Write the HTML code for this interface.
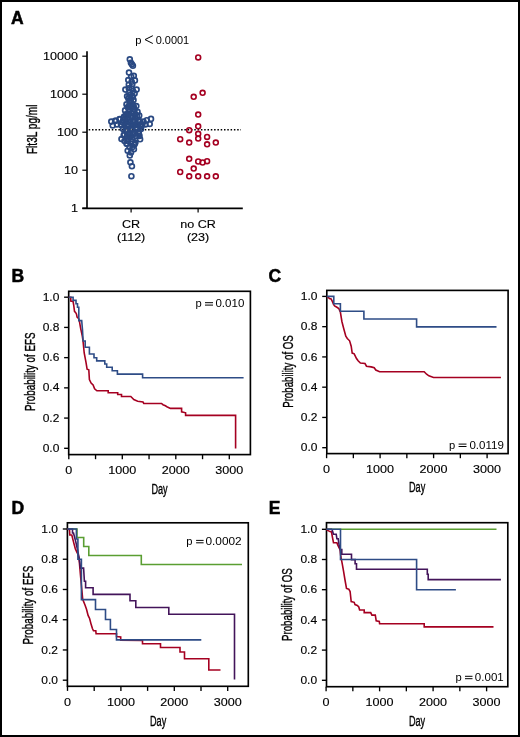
<!DOCTYPE html><html><head><meta charset="utf-8"><style>html,body{margin:0;padding:0;background:#fff}svg{display:block;will-change:transform}</style></head><body>
<svg width="520" height="737" viewBox="0 0 520 737" font-family="Liberation Sans, sans-serif" fill="#000">
<rect x="0" y="0" width="520" height="737" fill="#fff"/>
<rect x="1" y="1" width="518" height="735" fill="none" stroke="#000" stroke-width="2"/>
<text x="11" y="23.5" font-size="17.5" font-weight="bold" stroke="#000" stroke-width="0.5">A</text>
<line x1="87.00" y1="51.20" x2="87.00" y2="209.05" stroke="#000" stroke-width="1.65" />
<line x1="82.30" y1="208.30" x2="242.80" y2="208.30" stroke="#000" stroke-width="1.65" />
<line x1="82.30" y1="56.20" x2="87.00" y2="56.20" stroke="#000" stroke-width="1.2" />
<text transform="translate(77.90,60) scale(1.05,0.97)" font-size="12" text-anchor="end" stroke="#000" stroke-width="0.15">10000</text>
<line x1="82.30" y1="94.20" x2="87.00" y2="94.20" stroke="#000" stroke-width="1.2" />
<text transform="translate(77.90,98) scale(1.05,0.97)" font-size="12" text-anchor="end" stroke="#000" stroke-width="0.15">1000</text>
<line x1="82.30" y1="132.20" x2="87.00" y2="132.20" stroke="#000" stroke-width="1.2" />
<text transform="translate(77.90,136) scale(1.05,0.97)" font-size="12" text-anchor="end" stroke="#000" stroke-width="0.15">100</text>
<line x1="82.30" y1="170.20" x2="87.00" y2="170.20" stroke="#000" stroke-width="1.2" />
<text transform="translate(77.90,174) scale(1.05,0.97)" font-size="12" text-anchor="end" stroke="#000" stroke-width="0.15">10</text>
<line x1="82.30" y1="208.20" x2="87.00" y2="208.20" stroke="#000" stroke-width="1.2" />
<text transform="translate(77.90,212) scale(1.05,0.97)" font-size="12" text-anchor="end" stroke="#000" stroke-width="0.15">1</text>
<line x1="131.10" y1="208.30" x2="131.10" y2="212.40" stroke="#000" stroke-width="1.2" />
<line x1="198.10" y1="208.30" x2="198.10" y2="212.40" stroke="#000" stroke-width="1.2" />
<text transform="translate(131.10,228) scale(1.05,0.97)" font-size="12" text-anchor="middle" stroke="#000" stroke-width="0.15">CR</text>
<text transform="translate(131.10,241) scale(1.05,0.97)" font-size="12" text-anchor="middle" stroke="#000" stroke-width="0.15">(112)</text>
<text transform="translate(198.10,228) scale(1.05,0.97)" font-size="12" text-anchor="middle" stroke="#000" stroke-width="0.15">no CR</text>
<text transform="translate(198.10,241) scale(1.05,0.97)" font-size="12" text-anchor="middle" stroke="#000" stroke-width="0.15">(23)</text>
<text x="135.30" y="43.9" font-size="11.2">p</text>
<polyline points="152.80,35.70 145.00,39.60 152.80,43.50" fill="none" stroke="#000" stroke-width="1.0"/>
<text transform="translate(189.20,43.9) scale(0.98,0.95)" font-size="11.2" text-anchor="end">0.0001</text>
<text x="36.6" y="129.3" transform="rotate(-90 36.6 129.3)" font-size="14" text-anchor="middle" textLength="49.5" lengthAdjust="spacingAndGlyphs" stroke="#000" stroke-width="0.35">Flt3L pg/ml</text>
<line x1="88.70" y1="129.80" x2="241.00" y2="129.80" stroke="#000" stroke-width="1.5" stroke-dasharray="1.5,1.8"/>
<circle cx="198.2" cy="57.4" r="2.45" fill="none" stroke="#a50021" stroke-width="1.6"/>
<circle cx="202.6" cy="92.8" r="2.45" fill="none" stroke="#a50021" stroke-width="1.6"/>
<circle cx="193.7" cy="96.8" r="2.45" fill="none" stroke="#a50021" stroke-width="1.6"/>
<circle cx="198.2" cy="114.6" r="2.45" fill="none" stroke="#a50021" stroke-width="1.6"/>
<circle cx="198.2" cy="126.3" r="2.45" fill="none" stroke="#a50021" stroke-width="1.6"/>
<circle cx="189.2" cy="130.2" r="2.45" fill="none" stroke="#a50021" stroke-width="1.6"/>
<circle cx="198.2" cy="133.8" r="2.45" fill="none" stroke="#a50021" stroke-width="1.6"/>
<circle cx="198.2" cy="138.6" r="2.45" fill="none" stroke="#a50021" stroke-width="1.6"/>
<circle cx="207.1" cy="136.9" r="2.45" fill="none" stroke="#a50021" stroke-width="1.6"/>
<circle cx="180.2" cy="139.2" r="2.45" fill="none" stroke="#a50021" stroke-width="1.6"/>
<circle cx="189.2" cy="142.6" r="2.45" fill="none" stroke="#a50021" stroke-width="1.6"/>
<circle cx="207.1" cy="144.3" r="2.45" fill="none" stroke="#a50021" stroke-width="1.6"/>
<circle cx="215.8" cy="142.6" r="2.45" fill="none" stroke="#a50021" stroke-width="1.6"/>
<circle cx="189.2" cy="158.8" r="2.45" fill="none" stroke="#a50021" stroke-width="1.6"/>
<circle cx="198.2" cy="161.5" r="2.45" fill="none" stroke="#a50021" stroke-width="1.6"/>
<circle cx="202.6" cy="162.5" r="2.45" fill="none" stroke="#a50021" stroke-width="1.6"/>
<circle cx="207.1" cy="161.2" r="2.45" fill="none" stroke="#a50021" stroke-width="1.6"/>
<circle cx="193.7" cy="168.6" r="2.45" fill="none" stroke="#a50021" stroke-width="1.6"/>
<circle cx="180.2" cy="172" r="2.45" fill="none" stroke="#a50021" stroke-width="1.6"/>
<circle cx="189.2" cy="176.3" r="2.45" fill="none" stroke="#a50021" stroke-width="1.6"/>
<circle cx="198.2" cy="176.3" r="2.45" fill="none" stroke="#a50021" stroke-width="1.6"/>
<circle cx="207.1" cy="176.3" r="2.45" fill="none" stroke="#a50021" stroke-width="1.6"/>
<circle cx="215.8" cy="176.3" r="2.45" fill="none" stroke="#a50021" stroke-width="1.6"/>
<circle cx="129.8" cy="59.3" r="2.45" fill="none" stroke="#2a4982" stroke-width="1.7"/>
<circle cx="130.9" cy="62.8" r="2.45" fill="none" stroke="#2a4982" stroke-width="1.7"/>
<circle cx="131.9" cy="64.3" r="2.45" fill="none" stroke="#2a4982" stroke-width="1.7"/>
<circle cx="132.9" cy="65.7" r="2.45" fill="none" stroke="#2a4982" stroke-width="1.7"/>
<circle cx="129.0" cy="72.6" r="2.45" fill="none" stroke="#2a4982" stroke-width="1.7"/>
<circle cx="133.8" cy="75.8" r="2.45" fill="none" stroke="#2a4982" stroke-width="1.7"/>
<circle cx="131.2" cy="76.7" r="2.45" fill="none" stroke="#2a4982" stroke-width="1.7"/>
<circle cx="128.3" cy="80.1" r="2.45" fill="none" stroke="#2a4982" stroke-width="1.7"/>
<circle cx="134.9" cy="80.4" r="2.45" fill="none" stroke="#2a4982" stroke-width="1.7"/>
<circle cx="131.7" cy="81.8" r="2.45" fill="none" stroke="#2a4982" stroke-width="1.7"/>
<circle cx="128.8" cy="84.7" r="2.45" fill="none" stroke="#2a4982" stroke-width="1.7"/>
<circle cx="132.3" cy="84.2" r="2.45" fill="none" stroke="#2a4982" stroke-width="1.7"/>
<circle cx="128.8" cy="88.2" r="2.45" fill="none" stroke="#2a4982" stroke-width="1.7"/>
<circle cx="131.7" cy="88.5" r="2.45" fill="none" stroke="#2a4982" stroke-width="1.7"/>
<circle cx="125.4" cy="89.6" r="2.45" fill="none" stroke="#2a4982" stroke-width="1.7"/>
<circle cx="136.6" cy="89.6" r="2.45" fill="none" stroke="#2a4982" stroke-width="1.7"/>
<circle cx="129.4" cy="92.2" r="2.45" fill="none" stroke="#2a4982" stroke-width="1.7"/>
<circle cx="134.6" cy="93.4" r="2.45" fill="none" stroke="#2a4982" stroke-width="1.7"/>
<circle cx="133.0" cy="91.0" r="2.45" fill="none" stroke="#2a4982" stroke-width="1.7"/>
<circle cx="127.1" cy="96.3" r="2.45" fill="none" stroke="#2a4982" stroke-width="1.7"/>
<circle cx="132.3" cy="96.3" r="2.45" fill="none" stroke="#2a4982" stroke-width="1.7"/>
<circle cx="130.0" cy="95.0" r="2.45" fill="none" stroke="#2a4982" stroke-width="1.7"/>
<circle cx="128.3" cy="98.6" r="2.45" fill="none" stroke="#2a4982" stroke-width="1.7"/>
<circle cx="133.5" cy="100.1" r="2.45" fill="none" stroke="#2a4982" stroke-width="1.7"/>
<circle cx="130.5" cy="101.0" r="2.45" fill="none" stroke="#2a4982" stroke-width="1.7"/>
<circle cx="126.5" cy="104.4" r="2.45" fill="none" stroke="#2a4982" stroke-width="1.7"/>
<circle cx="132.6" cy="104.4" r="2.45" fill="none" stroke="#2a4982" stroke-width="1.7"/>
<circle cx="129.5" cy="104.4" r="2.45" fill="none" stroke="#2a4982" stroke-width="1.7"/>
<circle cx="136.3" cy="106.1" r="2.45" fill="none" stroke="#2a4982" stroke-width="1.7"/>
<circle cx="128.0" cy="107.5" r="2.45" fill="none" stroke="#2a4982" stroke-width="1.7"/>
<circle cx="133.5" cy="107.5" r="2.45" fill="none" stroke="#2a4982" stroke-width="1.7"/>
<circle cx="129.4" cy="109.6" r="2.45" fill="none" stroke="#2a4982" stroke-width="1.7"/>
<circle cx="134.6" cy="109.9" r="2.45" fill="none" stroke="#2a4982" stroke-width="1.7"/>
<circle cx="125.1" cy="110.4" r="2.45" fill="none" stroke="#2a4982" stroke-width="1.7"/>
<circle cx="137.5" cy="111.9" r="2.45" fill="none" stroke="#2a4982" stroke-width="1.7"/>
<circle cx="131.5" cy="113.0" r="2.45" fill="none" stroke="#2a4982" stroke-width="1.7"/>
<circle cx="126.0" cy="114.2" r="2.45" fill="none" stroke="#2a4982" stroke-width="1.7"/>
<circle cx="139.2" cy="115.6" r="2.45" fill="none" stroke="#2a4982" stroke-width="1.7"/>
<circle cx="129.0" cy="114.5" r="2.45" fill="none" stroke="#2a4982" stroke-width="1.7"/>
<circle cx="135.5" cy="114.5" r="2.45" fill="none" stroke="#2a4982" stroke-width="1.7"/>
<circle cx="123.9" cy="117.1" r="2.45" fill="none" stroke="#2a4982" stroke-width="1.7"/>
<circle cx="131.7" cy="117.7" r="2.45" fill="none" stroke="#2a4982" stroke-width="1.7"/>
<circle cx="135.2" cy="117.7" r="2.45" fill="none" stroke="#2a4982" stroke-width="1.7"/>
<circle cx="124.2" cy="116.8" r="2.45" fill="none" stroke="#2a4982" stroke-width="1.7"/>
<circle cx="128.3" cy="118.8" r="2.45" fill="none" stroke="#2a4982" stroke-width="1.7"/>
<circle cx="119.9" cy="119.2" r="2.45" fill="none" stroke="#2a4982" stroke-width="1.7"/>
<circle cx="119.6" cy="119.1" r="2.45" fill="none" stroke="#2a4982" stroke-width="1.7"/>
<circle cx="115.1" cy="120.8" r="2.45" fill="none" stroke="#2a4982" stroke-width="1.7"/>
<circle cx="115.9" cy="120.8" r="2.45" fill="none" stroke="#2a4982" stroke-width="1.7"/>
<circle cx="111.3" cy="121.6" r="2.45" fill="none" stroke="#2a4982" stroke-width="1.7"/>
<circle cx="122.5" cy="122.3" r="2.45" fill="none" stroke="#2a4982" stroke-width="1.7"/>
<circle cx="151.0" cy="118.9" r="2.45" fill="none" stroke="#2a4982" stroke-width="1.7"/>
<circle cx="146.8" cy="120.2" r="2.45" fill="none" stroke="#2a4982" stroke-width="1.7"/>
<circle cx="143.5" cy="121.6" r="2.45" fill="none" stroke="#2a4982" stroke-width="1.7"/>
<circle cx="149.7" cy="124.0" r="2.45" fill="none" stroke="#2a4982" stroke-width="1.7"/>
<circle cx="138.1" cy="120.5" r="2.45" fill="none" stroke="#2a4982" stroke-width="1.7"/>
<circle cx="112.7" cy="125.5" r="2.45" fill="none" stroke="#2a4982" stroke-width="1.7"/>
<circle cx="117.0" cy="124.5" r="2.45" fill="none" stroke="#2a4982" stroke-width="1.7"/>
<circle cx="126.0" cy="121.5" r="2.45" fill="none" stroke="#2a4982" stroke-width="1.7"/>
<circle cx="130.0" cy="121.5" r="2.45" fill="none" stroke="#2a4982" stroke-width="1.7"/>
<circle cx="134.0" cy="121.5" r="2.45" fill="none" stroke="#2a4982" stroke-width="1.7"/>
<circle cx="140.0" cy="121.5" r="2.45" fill="none" stroke="#2a4982" stroke-width="1.7"/>
<circle cx="121.0" cy="124.5" r="2.45" fill="none" stroke="#2a4982" stroke-width="1.7"/>
<circle cx="124.5" cy="124.5" r="2.45" fill="none" stroke="#2a4982" stroke-width="1.7"/>
<circle cx="128.0" cy="124.5" r="2.45" fill="none" stroke="#2a4982" stroke-width="1.7"/>
<circle cx="131.5" cy="124.5" r="2.45" fill="none" stroke="#2a4982" stroke-width="1.7"/>
<circle cx="135.0" cy="124.5" r="2.45" fill="none" stroke="#2a4982" stroke-width="1.7"/>
<circle cx="138.5" cy="124.5" r="2.45" fill="none" stroke="#2a4982" stroke-width="1.7"/>
<circle cx="142.0" cy="124.5" r="2.45" fill="none" stroke="#2a4982" stroke-width="1.7"/>
<circle cx="145.5" cy="124.5" r="2.45" fill="none" stroke="#2a4982" stroke-width="1.7"/>
<circle cx="128.6" cy="126.4" r="2.45" fill="none" stroke="#2a4982" stroke-width="1.7"/>
<circle cx="140.6" cy="126.4" r="2.45" fill="none" stroke="#2a4982" stroke-width="1.7"/>
<circle cx="133.8" cy="125.0" r="2.45" fill="none" stroke="#2a4982" stroke-width="1.7"/>
<circle cx="136.7" cy="127.9" r="2.45" fill="none" stroke="#2a4982" stroke-width="1.7"/>
<circle cx="132.4" cy="129.8" r="2.45" fill="none" stroke="#2a4982" stroke-width="1.7"/>
<circle cx="126.6" cy="130.3" r="2.45" fill="none" stroke="#2a4982" stroke-width="1.7"/>
<circle cx="123.0" cy="129.0" r="2.45" fill="none" stroke="#2a4982" stroke-width="1.7"/>
<circle cx="141.0" cy="129.0" r="2.45" fill="none" stroke="#2a4982" stroke-width="1.7"/>
<circle cx="129.5" cy="132.7" r="2.45" fill="none" stroke="#2a4982" stroke-width="1.7"/>
<circle cx="134.8" cy="132.7" r="2.45" fill="none" stroke="#2a4982" stroke-width="1.7"/>
<circle cx="138.7" cy="131.7" r="2.45" fill="none" stroke="#2a4982" stroke-width="1.7"/>
<circle cx="138.7" cy="133.1" r="2.45" fill="none" stroke="#2a4982" stroke-width="1.7"/>
<circle cx="123.7" cy="135.3" r="2.45" fill="none" stroke="#2a4982" stroke-width="1.7"/>
<circle cx="127.0" cy="136.0" r="2.45" fill="none" stroke="#2a4982" stroke-width="1.7"/>
<circle cx="131.0" cy="136.0" r="2.45" fill="none" stroke="#2a4982" stroke-width="1.7"/>
<circle cx="135.5" cy="136.0" r="2.45" fill="none" stroke="#2a4982" stroke-width="1.7"/>
<circle cx="139.5" cy="136.0" r="2.45" fill="none" stroke="#2a4982" stroke-width="1.7"/>
<circle cx="129.5" cy="137.1" r="2.45" fill="none" stroke="#2a4982" stroke-width="1.7"/>
<circle cx="121.5" cy="139.0" r="2.45" fill="none" stroke="#2a4982" stroke-width="1.7"/>
<circle cx="140.1" cy="139.3" r="2.45" fill="none" stroke="#2a4982" stroke-width="1.7"/>
<circle cx="131.4" cy="141.5" r="2.45" fill="none" stroke="#2a4982" stroke-width="1.7"/>
<circle cx="135.4" cy="142.6" r="2.45" fill="none" stroke="#2a4982" stroke-width="1.7"/>
<circle cx="124.5" cy="141.0" r="2.45" fill="none" stroke="#2a4982" stroke-width="1.7"/>
<circle cx="128.0" cy="141.0" r="2.45" fill="none" stroke="#2a4982" stroke-width="1.7"/>
<circle cx="126.6" cy="143.7" r="2.45" fill="none" stroke="#2a4982" stroke-width="1.7"/>
<circle cx="134.3" cy="144.8" r="2.45" fill="none" stroke="#2a4982" stroke-width="1.7"/>
<circle cx="129.5" cy="147.0" r="2.45" fill="none" stroke="#2a4982" stroke-width="1.7"/>
<circle cx="132.5" cy="147.0" r="2.45" fill="none" stroke="#2a4982" stroke-width="1.7"/>
<circle cx="127.7" cy="150.7" r="2.45" fill="none" stroke="#2a4982" stroke-width="1.7"/>
<circle cx="133.9" cy="149.2" r="2.45" fill="none" stroke="#2a4982" stroke-width="1.7"/>
<circle cx="131.0" cy="152.5" r="2.45" fill="none" stroke="#2a4982" stroke-width="1.7"/>
<circle cx="129.8" cy="155.4" r="2.45" fill="none" stroke="#2a4982" stroke-width="1.7"/>
<circle cx="130.4" cy="162.3" r="2.45" fill="none" stroke="#2a4982" stroke-width="1.7"/>
<circle cx="131.9" cy="166.2" r="2.45" fill="none" stroke="#2a4982" stroke-width="1.7"/>
<circle cx="131.4" cy="176.2" r="2.45" fill="none" stroke="#2a4982" stroke-width="1.7"/>
<circle cx="129.2" cy="97.2" r="2.45" fill="none" stroke="#2a4982" stroke-width="1.7"/>
<circle cx="132.8" cy="97.1" r="2.45" fill="none" stroke="#2a4982" stroke-width="1.7"/>
<circle cx="130.9" cy="102.0" r="2.45" fill="none" stroke="#2a4982" stroke-width="1.7"/>
<circle cx="128.1" cy="106.7" r="2.45" fill="none" stroke="#2a4982" stroke-width="1.7"/>
<circle cx="133.7" cy="106.6" r="2.45" fill="none" stroke="#2a4982" stroke-width="1.7"/>
<circle cx="128.8" cy="110.9" r="2.45" fill="none" stroke="#2a4982" stroke-width="1.7"/>
<circle cx="133.1" cy="111.6" r="2.45" fill="none" stroke="#2a4982" stroke-width="1.7"/>
<circle cx="125.7" cy="115.6" r="2.45" fill="none" stroke="#2a4982" stroke-width="1.7"/>
<circle cx="131.6" cy="116.3" r="2.45" fill="none" stroke="#2a4982" stroke-width="1.7"/>
<circle cx="137.0" cy="115.8" r="2.45" fill="none" stroke="#2a4982" stroke-width="1.7"/>
<circle cx="123.2" cy="120.0" r="2.45" fill="none" stroke="#2a4982" stroke-width="1.7"/>
<circle cx="128.6" cy="120.3" r="2.45" fill="none" stroke="#2a4982" stroke-width="1.7"/>
<circle cx="133.3" cy="120.1" r="2.45" fill="none" stroke="#2a4982" stroke-width="1.7"/>
<circle cx="139.0" cy="120.8" r="2.45" fill="none" stroke="#2a4982" stroke-width="1.7"/>
<circle cx="121.5" cy="125.2" r="2.45" fill="none" stroke="#2a4982" stroke-width="1.7"/>
<circle cx="127.0" cy="125.0" r="2.45" fill="none" stroke="#2a4982" stroke-width="1.7"/>
<circle cx="132.0" cy="124.7" r="2.45" fill="none" stroke="#2a4982" stroke-width="1.7"/>
<circle cx="136.5" cy="124.8" r="2.45" fill="none" stroke="#2a4982" stroke-width="1.7"/>
<circle cx="142.2" cy="125.0" r="2.45" fill="none" stroke="#2a4982" stroke-width="1.7"/>
<circle cx="125.7" cy="129.8" r="2.45" fill="none" stroke="#2a4982" stroke-width="1.7"/>
<circle cx="130.8" cy="129.5" r="2.45" fill="none" stroke="#2a4982" stroke-width="1.7"/>
<circle cx="136.2" cy="129.9" r="2.45" fill="none" stroke="#2a4982" stroke-width="1.7"/>
<circle cx="124.3" cy="134.4" r="2.45" fill="none" stroke="#2a4982" stroke-width="1.7"/>
<circle cx="129.2" cy="134.7" r="2.45" fill="none" stroke="#2a4982" stroke-width="1.7"/>
<circle cx="134.0" cy="134.1" r="2.45" fill="none" stroke="#2a4982" stroke-width="1.7"/>
<circle cx="138.9" cy="133.9" r="2.45" fill="none" stroke="#2a4982" stroke-width="1.7"/>
<circle cx="127.3" cy="139.2" r="2.45" fill="none" stroke="#2a4982" stroke-width="1.7"/>
<circle cx="132.4" cy="138.9" r="2.45" fill="none" stroke="#2a4982" stroke-width="1.7"/>
<circle cx="127.0" cy="143.7" r="2.45" fill="none" stroke="#2a4982" stroke-width="1.7"/>
<circle cx="134.8" cy="143.6" r="2.45" fill="none" stroke="#2a4982" stroke-width="1.7"/>
<rect x="68.7" y="291.3" width="181.7" height="163.3" fill="none" stroke="#000" stroke-width="1.65"/>
<line x1="64.10" y1="448.30" x2="68.70" y2="448.30" stroke="#000" stroke-width="1.35" />
<text transform="translate(59.30,452) scale(1.0,0.97)" font-size="12" text-anchor="end" stroke="#000" stroke-width="0.15">0.0</text>
<line x1="64.10" y1="418.08" x2="68.70" y2="418.08" stroke="#000" stroke-width="1.35" />
<text transform="translate(59.30,422) scale(1.0,0.97)" font-size="12" text-anchor="end" stroke="#000" stroke-width="0.15">0.2</text>
<line x1="64.10" y1="387.86" x2="68.70" y2="387.86" stroke="#000" stroke-width="1.35" />
<text transform="translate(59.30,391) scale(1.0,0.97)" font-size="12" text-anchor="end" stroke="#000" stroke-width="0.15">0.4</text>
<line x1="64.10" y1="357.64" x2="68.70" y2="357.64" stroke="#000" stroke-width="1.35" />
<text transform="translate(59.30,361) scale(1.0,0.97)" font-size="12" text-anchor="end" stroke="#000" stroke-width="0.15">0.6</text>
<line x1="64.10" y1="327.42" x2="68.70" y2="327.42" stroke="#000" stroke-width="1.35" />
<text transform="translate(59.30,331) scale(1.0,0.97)" font-size="12" text-anchor="end" stroke="#000" stroke-width="0.15">0.8</text>
<line x1="64.10" y1="297.20" x2="68.70" y2="297.20" stroke="#000" stroke-width="1.35" />
<text transform="translate(59.30,301) scale(1.0,0.97)" font-size="12" text-anchor="end" stroke="#000" stroke-width="0.15">1.0</text>
<line x1="68.80" y1="454.60" x2="68.80" y2="459.20" stroke="#000" stroke-width="1.35" />
<line x1="95.55" y1="454.60" x2="95.55" y2="459.20" stroke="#000" stroke-width="1.35" />
<line x1="122.30" y1="454.60" x2="122.30" y2="459.20" stroke="#000" stroke-width="1.35" />
<line x1="149.05" y1="454.60" x2="149.05" y2="459.20" stroke="#000" stroke-width="1.35" />
<line x1="175.80" y1="454.60" x2="175.80" y2="459.20" stroke="#000" stroke-width="1.35" />
<line x1="202.55" y1="454.60" x2="202.55" y2="459.20" stroke="#000" stroke-width="1.35" />
<line x1="229.30" y1="454.60" x2="229.30" y2="459.20" stroke="#000" stroke-width="1.35" />
<text transform="translate(68.80,474) scale(1.05,0.97)" font-size="12" text-anchor="middle" stroke="#000" stroke-width="0.15">0</text>
<text transform="translate(122.30,474) scale(1.05,0.97)" font-size="12" text-anchor="middle" stroke="#000" stroke-width="0.15">1000</text>
<text transform="translate(175.80,474) scale(1.05,0.97)" font-size="12" text-anchor="middle" stroke="#000" stroke-width="0.15">2000</text>
<text transform="translate(229.30,474) scale(1.05,0.97)" font-size="12" text-anchor="middle" stroke="#000" stroke-width="0.15">3000</text>
<text x="35.1" y="371.7" transform="rotate(-90 35.1 371.7)" font-size="14" text-anchor="middle" textLength="78.5" lengthAdjust="spacingAndGlyphs" stroke="#000" stroke-width="0.35">Probability of EFS</text>
<text x="159.5" y="493.6" font-size="14" text-anchor="middle" textLength="16.2" lengthAdjust="spacingAndGlyphs" stroke="#000" stroke-width="0.35">Day</text>
<text x="195.60" y="307.3" font-size="11.2">p</text>
<line x1="205.00" y1="302.70" x2="213.00" y2="302.70" stroke="#000" stroke-width="1.0" />
<line x1="205.00" y1="305.10" x2="213.00" y2="305.10" stroke="#000" stroke-width="1.0" />
<text transform="translate(244.30,307.3) scale(1.03,0.95)" font-size="11.2" text-anchor="end">0.010</text>
<text x="11.5" y="281.9" font-size="17.5" font-weight="bold" stroke="#000" stroke-width="0.5">B</text>
<polyline points="68.7,297.2 70.8,297.2 70.8,301.0 73.1,301.5 73.7,305.0 74.5,311.3 76.0,313.1 76.5,314.2 77.1,317.1 78.8,318.8 79.4,321.1 80.6,328.1 82.3,336.1 83.0,340.7 84.2,353.0 86.0,362.3 87.1,369.2 88.8,369.8 89.4,379.6 91.1,383.0 93.1,385.0 94.6,388.8 96.9,390.8 108.2,390.8 108.2,392.7 117.7,392.7 117.7,394.5 121.5,394.5 121.5,396.5 130.8,396.5 132.3,398.0 133.8,399.6 137.7,401.2 143.0,402.0 143.8,403.5 161.5,403.5 163.0,404.7 165.4,405.8 166.9,406.7 170.4,408.4 181.6,408.4 181.6,411.9 185.6,412.8 185.6,415.4 235.6,415.4 235.6,448.6" fill="none" stroke="#a50021" stroke-width="1.6" stroke-linejoin="miter" stroke-linecap="butt"/>
<polyline points="68.7,297.2 73.1,297.2 73.1,300.4 76.0,300.4 76.0,303.8 77.5,303.8 77.5,307.3 78.8,307.3 78.8,320.6 81.7,320.6 82.5,330.0 83.1,341.0 85.2,341.0 85.2,347.3 89.4,347.3 89.4,354.0 94.0,354.0 94.0,357.7 96.7,357.7 96.7,360.9 104.8,360.9 104.8,364.0 106.7,364.0 106.7,367.2 112.2,367.2 112.2,370.7 117.4,370.7 117.4,374.1 142.6,374.1 142.6,377.8 243.6,377.8" fill="none" stroke="#2e4c86" stroke-width="1.6" stroke-linejoin="miter" stroke-linecap="butt"/>
<rect x="326.8" y="290.4" width="181.3" height="163.20000000000005" fill="none" stroke="#000" stroke-width="1.65"/>
<line x1="322.20" y1="447.70" x2="326.80" y2="447.70" stroke="#000" stroke-width="1.35" />
<text transform="translate(317.40,451) scale(1.0,0.97)" font-size="12" text-anchor="end" stroke="#000" stroke-width="0.15">0.0</text>
<line x1="322.20" y1="417.44" x2="326.80" y2="417.44" stroke="#000" stroke-width="1.35" />
<text transform="translate(317.40,421) scale(1.0,0.97)" font-size="12" text-anchor="end" stroke="#000" stroke-width="0.15">0.2</text>
<line x1="322.20" y1="387.18" x2="326.80" y2="387.18" stroke="#000" stroke-width="1.35" />
<text transform="translate(317.40,391) scale(1.0,0.97)" font-size="12" text-anchor="end" stroke="#000" stroke-width="0.15">0.4</text>
<line x1="322.20" y1="356.92" x2="326.80" y2="356.92" stroke="#000" stroke-width="1.35" />
<text transform="translate(317.40,361) scale(1.0,0.97)" font-size="12" text-anchor="end" stroke="#000" stroke-width="0.15">0.6</text>
<line x1="322.20" y1="326.66" x2="326.80" y2="326.66" stroke="#000" stroke-width="1.35" />
<text transform="translate(317.40,330) scale(1.0,0.97)" font-size="12" text-anchor="end" stroke="#000" stroke-width="0.15">0.8</text>
<line x1="322.20" y1="296.40" x2="326.80" y2="296.40" stroke="#000" stroke-width="1.35" />
<text transform="translate(317.40,300) scale(1.0,0.97)" font-size="12" text-anchor="end" stroke="#000" stroke-width="0.15">1.0</text>
<line x1="326.60" y1="453.60" x2="326.60" y2="458.20" stroke="#000" stroke-width="1.35" />
<line x1="353.35" y1="453.60" x2="353.35" y2="458.20" stroke="#000" stroke-width="1.35" />
<line x1="380.10" y1="453.60" x2="380.10" y2="458.20" stroke="#000" stroke-width="1.35" />
<line x1="406.85" y1="453.60" x2="406.85" y2="458.20" stroke="#000" stroke-width="1.35" />
<line x1="433.60" y1="453.60" x2="433.60" y2="458.20" stroke="#000" stroke-width="1.35" />
<line x1="460.35" y1="453.60" x2="460.35" y2="458.20" stroke="#000" stroke-width="1.35" />
<line x1="487.10" y1="453.60" x2="487.10" y2="458.20" stroke="#000" stroke-width="1.35" />
<text transform="translate(326.60,473) scale(1.05,0.97)" font-size="12" text-anchor="middle" stroke="#000" stroke-width="0.15">0</text>
<text transform="translate(380.10,473) scale(1.05,0.97)" font-size="12" text-anchor="middle" stroke="#000" stroke-width="0.15">1000</text>
<text transform="translate(433.60,473) scale(1.05,0.97)" font-size="12" text-anchor="middle" stroke="#000" stroke-width="0.15">2000</text>
<text transform="translate(487.10,473) scale(1.05,0.97)" font-size="12" text-anchor="middle" stroke="#000" stroke-width="0.15">3000</text>
<text x="292.9" y="371.5" transform="rotate(-90 292.9 371.5)" font-size="14" text-anchor="middle" textLength="72.6" lengthAdjust="spacingAndGlyphs" stroke="#000" stroke-width="0.35">Probability of OS</text>
<text x="417.1" y="492.3" font-size="14" text-anchor="middle" textLength="16.2" lengthAdjust="spacingAndGlyphs" stroke="#000" stroke-width="0.35">Day</text>
<text x="449.00" y="448.7" font-size="11.2">p</text>
<line x1="458.60" y1="444.10" x2="466.50" y2="444.10" stroke="#000" stroke-width="1.0" />
<line x1="458.60" y1="446.50" x2="466.50" y2="446.50" stroke="#000" stroke-width="1.0" />
<text transform="translate(503.80,448.7) scale(1.03,0.95)" font-size="11.2" text-anchor="end">0.0119</text>
<text x="268.6" y="281.9" font-size="17.5" font-weight="bold" stroke="#000" stroke-width="0.5">C</text>
<polyline points="326.8,296.4 327.7,296.7 329.4,298.5 331.1,299.0 332.3,301.3 333.4,304.2 334.6,306.0 336.9,307.3 338.8,308.5 340.4,312.3 341.9,321.5 343.5,327.7 345.8,336.2 347.3,338.5 349.6,340.8 351.2,346.2 352.2,353.1 354.2,353.8 356.5,358.5 358.1,360.8 360.4,363.1 365.0,363.5 366.5,366.2 371.2,366.9 374.2,367.7 375.8,370.0 379.6,371.7 424.2,371.7 426.6,374.2 428.9,375.8 433.5,377.5 500.9,377.5" fill="none" stroke="#a50021" stroke-width="1.6" stroke-linejoin="miter" stroke-linecap="butt"/>
<polyline points="326.8,296.4 333.8,296.4 333.8,303.7 340.4,303.7 340.4,311.2 363.9,311.2 363.9,319.0 416.6,319.0 416.6,326.9 496.5,326.9" fill="none" stroke="#2e4c86" stroke-width="1.6" stroke-linejoin="miter" stroke-linecap="butt"/>
<rect x="67.4" y="522.8" width="180.9" height="163.5" fill="none" stroke="#000" stroke-width="1.65"/>
<line x1="62.80" y1="680.20" x2="67.40" y2="680.20" stroke="#000" stroke-width="1.35" />
<text transform="translate(58.00,684) scale(1.0,0.97)" font-size="12" text-anchor="end" stroke="#000" stroke-width="0.15">0.0</text>
<line x1="62.80" y1="649.96" x2="67.40" y2="649.96" stroke="#000" stroke-width="1.35" />
<text transform="translate(58.00,654) scale(1.0,0.97)" font-size="12" text-anchor="end" stroke="#000" stroke-width="0.15">0.2</text>
<line x1="62.80" y1="619.72" x2="67.40" y2="619.72" stroke="#000" stroke-width="1.35" />
<text transform="translate(58.00,623) scale(1.0,0.97)" font-size="12" text-anchor="end" stroke="#000" stroke-width="0.15">0.4</text>
<line x1="62.80" y1="589.48" x2="67.40" y2="589.48" stroke="#000" stroke-width="1.35" />
<text transform="translate(58.00,593) scale(1.0,0.97)" font-size="12" text-anchor="end" stroke="#000" stroke-width="0.15">0.6</text>
<line x1="62.80" y1="559.24" x2="67.40" y2="559.24" stroke="#000" stroke-width="1.35" />
<text transform="translate(58.00,563) scale(1.0,0.97)" font-size="12" text-anchor="end" stroke="#000" stroke-width="0.15">0.8</text>
<line x1="62.80" y1="529.00" x2="67.40" y2="529.00" stroke="#000" stroke-width="1.35" />
<text transform="translate(58.00,533) scale(1.0,0.97)" font-size="12" text-anchor="end" stroke="#000" stroke-width="0.15">1.0</text>
<line x1="67.50" y1="686.30" x2="67.50" y2="690.90" stroke="#000" stroke-width="1.35" />
<line x1="94.20" y1="686.30" x2="94.20" y2="690.90" stroke="#000" stroke-width="1.35" />
<line x1="120.90" y1="686.30" x2="120.90" y2="690.90" stroke="#000" stroke-width="1.35" />
<line x1="147.60" y1="686.30" x2="147.60" y2="690.90" stroke="#000" stroke-width="1.35" />
<line x1="174.30" y1="686.30" x2="174.30" y2="690.90" stroke="#000" stroke-width="1.35" />
<line x1="201.00" y1="686.30" x2="201.00" y2="690.90" stroke="#000" stroke-width="1.35" />
<line x1="227.70" y1="686.30" x2="227.70" y2="690.90" stroke="#000" stroke-width="1.35" />
<text transform="translate(67.50,706) scale(1.05,0.97)" font-size="12" text-anchor="middle" stroke="#000" stroke-width="0.15">0</text>
<text transform="translate(120.90,706) scale(1.05,0.97)" font-size="12" text-anchor="middle" stroke="#000" stroke-width="0.15">1000</text>
<text transform="translate(174.30,706) scale(1.05,0.97)" font-size="12" text-anchor="middle" stroke="#000" stroke-width="0.15">2000</text>
<text transform="translate(227.70,706) scale(1.05,0.97)" font-size="12" text-anchor="middle" stroke="#000" stroke-width="0.15">3000</text>
<text x="32.8" y="605.2" transform="rotate(-90 32.8 605.2)" font-size="14" text-anchor="middle" textLength="78.8" lengthAdjust="spacingAndGlyphs" stroke="#000" stroke-width="0.35">Probability of EFS</text>
<text x="158.1" y="725.6" font-size="14" text-anchor="middle" textLength="16.2" lengthAdjust="spacingAndGlyphs" stroke="#000" stroke-width="0.35">Day</text>
<text x="186.20" y="545.0" font-size="11.2">p</text>
<line x1="196.10" y1="540.40" x2="203.60" y2="540.40" stroke="#000" stroke-width="1.0" />
<line x1="196.10" y1="542.80" x2="203.60" y2="542.80" stroke="#000" stroke-width="1.0" />
<text transform="translate(241.70,545.0) scale(1.06,0.95)" font-size="11.2" text-anchor="end">0.0002</text>
<text x="11.5" y="513.9" font-size="17.5" font-weight="bold" stroke="#000" stroke-width="0.5">D</text>
<polyline points="67.5,529.0 77.0,529.0 77.0,537.5 83.7,537.5 83.7,546.5 88.8,546.5 88.8,555.5 141.3,555.5 141.3,564.5 242.0,564.5" fill="none" stroke="#5a9e32" stroke-width="1.6" stroke-linejoin="miter" stroke-linecap="butt"/>
<polyline points="67.5,529.0 69.5,529.8 69.8,535.0 71.8,535.0 73.5,541.9 75.3,548.8 76.4,551.1 78.1,554.6 79.1,559.2 79.9,568.4 80.5,575.4 82.7,599.2 85.0,605.0 86.5,609.2 88.1,615.4 89.6,618.5 91.2,624.6 92.4,628.5 93.5,630.8 95.8,630.8 96.1,633.8 116.5,633.8 116.5,636.6 120.7,636.9 120.7,640.3 142.5,640.5 142.5,643.8 160.5,643.8 160.5,647.5 180.0,647.5 180.0,652.0 184.5,652.0 184.5,658.8 208.8,658.8 208.8,670.0 220.5,670.0" fill="none" stroke="#a50021" stroke-width="1.6" stroke-linejoin="miter" stroke-linecap="butt"/>
<polyline points="67.5,529.0 72.5,529.0 72.5,533.0 73.5,533.0 75.8,541.9 77.6,550.0 79.3,559.2 80.5,568.1 83.6,568.1 84.4,581.3 85.6,581.3 85.6,587.7 93.1,587.7 93.1,594.4 130.0,594.4 130.0,600.8 135.8,600.8 135.8,607.5 168.8,607.5 168.8,614.3 234.5,614.3 234.5,679.5" fill="none" stroke="#43145a" stroke-width="1.6" stroke-linejoin="miter" stroke-linecap="butt"/>
<polyline points="67.5,529.0 76.4,529.0 76.4,539.0 77.9,539.0 77.9,559.2 81.4,559.2 81.4,599.6 95.5,599.6 95.5,609.5 105.5,609.5 105.5,619.5 110.4,619.5 110.4,629.5 116.5,629.5 116.5,639.9 201.3,639.9" fill="none" stroke="#2e4c86" stroke-width="1.6" stroke-linejoin="miter" stroke-linecap="butt"/>
<rect x="326.5" y="522.7" width="181.3" height="164.0" fill="none" stroke="#000" stroke-width="1.65"/>
<line x1="321.90" y1="680.30" x2="326.50" y2="680.30" stroke="#000" stroke-width="1.35" />
<text transform="translate(317.10,684) scale(1.0,0.97)" font-size="12" text-anchor="end" stroke="#000" stroke-width="0.15">0.0</text>
<line x1="321.90" y1="650.10" x2="326.50" y2="650.10" stroke="#000" stroke-width="1.35" />
<text transform="translate(317.10,654) scale(1.0,0.97)" font-size="12" text-anchor="end" stroke="#000" stroke-width="0.15">0.2</text>
<line x1="321.90" y1="619.90" x2="326.50" y2="619.90" stroke="#000" stroke-width="1.35" />
<text transform="translate(317.10,624) scale(1.0,0.97)" font-size="12" text-anchor="end" stroke="#000" stroke-width="0.15">0.4</text>
<line x1="321.90" y1="589.70" x2="326.50" y2="589.70" stroke="#000" stroke-width="1.35" />
<text transform="translate(317.10,593) scale(1.0,0.97)" font-size="12" text-anchor="end" stroke="#000" stroke-width="0.15">0.6</text>
<line x1="321.90" y1="559.50" x2="326.50" y2="559.50" stroke="#000" stroke-width="1.35" />
<text transform="translate(317.10,563) scale(1.0,0.97)" font-size="12" text-anchor="end" stroke="#000" stroke-width="0.15">0.8</text>
<line x1="321.90" y1="529.30" x2="326.50" y2="529.30" stroke="#000" stroke-width="1.35" />
<text transform="translate(317.10,533) scale(1.0,0.97)" font-size="12" text-anchor="end" stroke="#000" stroke-width="0.15">1.0</text>
<line x1="326.10" y1="686.70" x2="326.10" y2="691.30" stroke="#000" stroke-width="1.35" />
<line x1="352.85" y1="686.70" x2="352.85" y2="691.30" stroke="#000" stroke-width="1.35" />
<line x1="379.60" y1="686.70" x2="379.60" y2="691.30" stroke="#000" stroke-width="1.35" />
<line x1="406.35" y1="686.70" x2="406.35" y2="691.30" stroke="#000" stroke-width="1.35" />
<line x1="433.10" y1="686.70" x2="433.10" y2="691.30" stroke="#000" stroke-width="1.35" />
<line x1="459.85" y1="686.70" x2="459.85" y2="691.30" stroke="#000" stroke-width="1.35" />
<line x1="486.60" y1="686.70" x2="486.60" y2="691.30" stroke="#000" stroke-width="1.35" />
<text transform="translate(326.10,706) scale(1.05,0.97)" font-size="12" text-anchor="middle" stroke="#000" stroke-width="0.15">0</text>
<text transform="translate(379.60,706) scale(1.05,0.97)" font-size="12" text-anchor="middle" stroke="#000" stroke-width="0.15">1000</text>
<text transform="translate(433.10,706) scale(1.05,0.97)" font-size="12" text-anchor="middle" stroke="#000" stroke-width="0.15">2000</text>
<text transform="translate(486.60,706) scale(1.05,0.97)" font-size="12" text-anchor="middle" stroke="#000" stroke-width="0.15">3000</text>
<text x="292.2" y="604.6" transform="rotate(-90 292.2 604.6)" font-size="14" text-anchor="middle" textLength="72.8" lengthAdjust="spacingAndGlyphs" stroke="#000" stroke-width="0.35">Probability of OS</text>
<text x="417.0" y="725.6" font-size="14" text-anchor="middle" textLength="16.2" lengthAdjust="spacingAndGlyphs" stroke="#000" stroke-width="0.35">Day</text>
<text x="455.60" y="680.9" font-size="11.2">p</text>
<line x1="465.00" y1="676.30" x2="472.50" y2="676.30" stroke="#000" stroke-width="1.0" />
<line x1="465.00" y1="678.70" x2="472.50" y2="678.70" stroke="#000" stroke-width="1.0" />
<text transform="translate(503.70,680.9) scale(1.03,0.95)" font-size="11.2" text-anchor="end">0.001</text>
<text x="268.7" y="513.9" font-size="17.5" font-weight="bold" stroke="#000" stroke-width="0.5">E</text>
<polyline points="326.5,529.3 496.5,529.3" fill="none" stroke="#5a9e32" stroke-width="1.6" stroke-linejoin="miter" stroke-linecap="butt"/>
<polyline points="326.5,529.3 327.7,530.4 330.0,531.6 331.5,532.0 332.3,536.5 333.5,542.7 336.9,542.7 337.7,545.0 340.0,549.6 340.8,556.5 342.3,564.2 343.5,570.8 345.0,580.0 346.5,588.5 348.8,589.2 350.1,591.5 351.2,601.5 354.2,602.3 355.0,604.6 357.3,605.4 358.8,607.0 359.6,610.0 364.2,610.0 364.2,612.6 370.7,612.6 371.9,615.1 375.3,615.1 376.2,620.8 379.3,621.5 379.6,623.7 424.2,623.7 424.2,626.9 493.5,626.9" fill="none" stroke="#a50021" stroke-width="1.6" stroke-linejoin="miter" stroke-linecap="butt"/>
<polyline points="326.5,529.3 331.5,529.3 332.3,530.4 333.5,534.2 336.2,534.2 336.9,538.8 338.2,538.8 339.2,545.8 340.3,549.6 341.8,549.6 341.8,554.2 351.5,554.2 351.5,559.6 355.1,559.6 355.1,563.8 356.5,563.8 356.5,569.2 427.3,569.2 427.3,574.3 428.2,574.3 428.2,579.6 500.9,579.6" fill="none" stroke="#43145a" stroke-width="1.6" stroke-linejoin="miter" stroke-linecap="butt"/>
<polyline points="326.5,529.3 340.5,529.3 340.5,559.5 416.6,559.5 416.6,589.7 455.9,589.7" fill="none" stroke="#2e4c86" stroke-width="1.6" stroke-linejoin="miter" stroke-linecap="butt"/>
</svg></body></html>
